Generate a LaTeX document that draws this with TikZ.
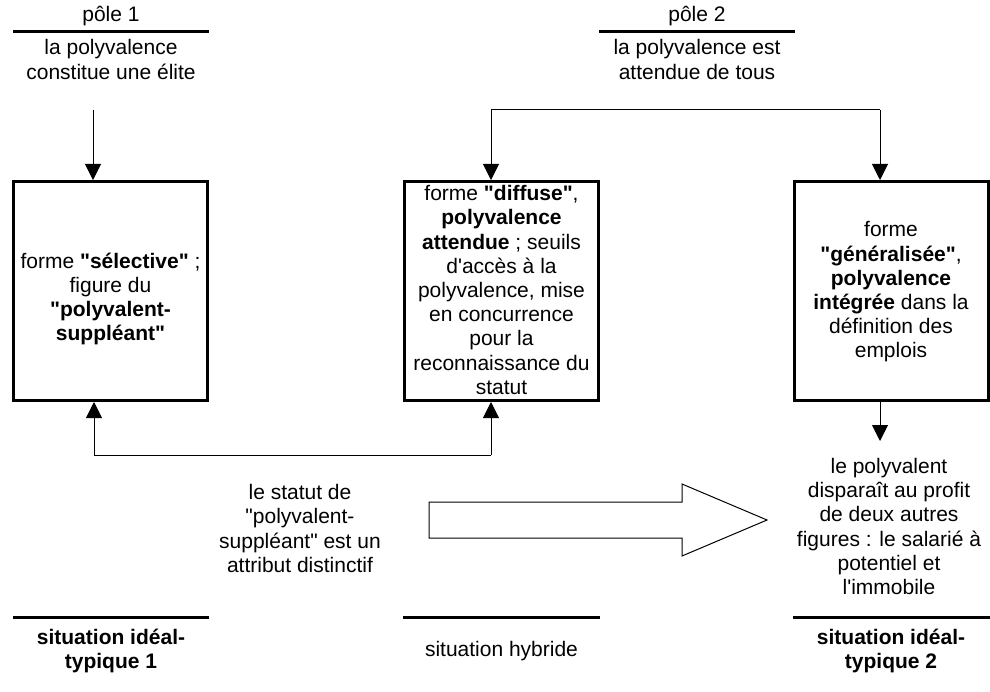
\documentclass[tikz,border=0pt]{standalone}
\usepackage{fontspec}
\newfontfamily\lsans{Liberation Sans}
\usetikzlibrary{arrows.meta}
\begin{document}
\begin{tikzpicture}[x=0.75pt,y=-0.75pt,
  txt/.style={font={\lsans\fontsize{15.75}{18.15}\selectfont}, align=center, inner sep=0pt},
  boldtxt/.style={font={\lsans\bfseries\fontsize{15.75}{18.15}\selectfont}, align=center, inner sep=0pt},
  boxx/.style={draw, line width=2.25pt, minimum width=145.5pt, minimum height=164.25pt, inner sep=0pt},
  rulex/.style={line width=2.25pt},
  conn/.style={line width=0.75pt, -{Triangle[width=12pt,length=12pt]}},
  thinline/.style={line width=0.75pt}]
\useasboundingbox (0,0) rectangle (990,692);

% top headers
\node[txt] (p1t) at (111,16) {pôle 1};
\draw[rulex] (13,32) -- (209,32);
\node[txt] (p1) at (111,59.5) {la polyvalence\\constitue une élite};
\node[txt] (p2t) at (697,16) {pôle 2};
\draw[rulex] (599,32) -- (795,32);
\node[txt] (p2) at (697,59.5) {la polyvalence est\\attendue de tous};

% boxes
\node[boxx] (b1) at (110.5,291) {};
\node[txt] (b1t) at (110.5,299) {forme \textbf{"sélective"} ;\\figure du\\\textbf{"polyvalent-}\\\textbf{suppléant"}};
\node[boxx] (b2) at (501.5,291) {};
\node[txt] (b2t) at (501.5,290) {forme \textbf{"diffuse"},\\\textbf{polyvalence}\\\textbf{attendue} ; seuils\\d'accès à la\\polyvalence, mise\\en concurrence\\pour la\\reconnaissance du\\statut};
\node[boxx] (b3) at (891,291) {};
\node[txt] (b3t) at (891,292) {forme\\\textbf{"généralisée"},\\\textbf{polyvalence}\\\textbf{intégrée} dans la\\définition des\\emplois};

% other texts
\node[txt] (mid) at (300,528.5) {le statut de\\"polyvalent-\\suppléant" est un\\attribut distinctif};
\node[txt] (res) at (889,526.5) {le polyvalent\\disparaît au profit\\de deux autres\\figures : le salarié à\\potentiel et\\l'immobile};

% connectors
\coordinate (a1) at (93,110);
\draw[conn] (a1) -- (a1 |- b1.north);
\coordinate (t1) at (491,110);
\coordinate (t2) at (880,110);
\draw[thinline] (t1) -- (t2);
\draw[conn] (t1) -- (t1 |- b2.north);
\draw[conn] (t2) -- (t2 |- b3.north);
\coordinate (u1) at (94,455);
\coordinate (u2) at (491,455);
\draw[thinline] (u1) -- (u2);
\draw[conn] (u1) -- (u1 |- b1.south);
\draw[conn] (u2) -- (u2 |- b2.south);
\coordinate (d3) at (880,441);
\draw[conn] (d3 |- b3.south) -- (d3);

% big hollow arrow
\draw[thinline, line join=miter] (429,502) -- (682,502) -- (682,484) -- (767,520) -- (682,556) -- (682,538) -- (429,538) -- cycle;

% bottom
\draw[rulex] (13,617) -- (209,617);
\draw[rulex] (403,617) -- (600,617);
\draw[rulex] (793,617) -- (990,617);
\node[boldtxt] (s1) at (111,651) {situation idéal-\\typique 1};
\node[txt] (s2) at (501.5,651) {situation hybride};
\node[boldtxt] (s3) at (891,651) {situation idéal-\\typique 2};
\end{tikzpicture}
\end{document}
